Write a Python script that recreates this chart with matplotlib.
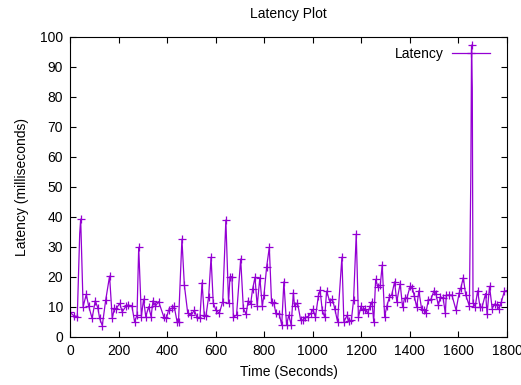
import matplotlib
matplotlib.use("Agg")
import matplotlib.pyplot as plt

time_s = [0, 16, 30, 40, 44, 54, 67, 77, 91, 104, 115, 122, 133, 147, 163, 174, 183, 189, 205, 215,
          231, 239, 255, 266, 276, 283, 294, 303, 312, 324, 334, 342, 352, 365, 386, 397, 406, 420, 429, 441,
          447, 461, 471, 485, 499, 512, 522, 535, 544, 553, 560, 571, 581, 590, 601, 615, 629, 642, 653, 659,
          667, 673, 686, 703, 714, 725, 734, 744, 752, 762, 771, 782, 792, 799, 810, 821, 830, 840, 848, 862,
          872, 881, 892, 901, 911, 920, 925, 937, 950, 961, 970, 980, 993, 1001, 1011, 1023, 1030, 1039, 1049, 1057,
          1070, 1081, 1091, 1102, 1120, 1128, 1142, 1148, 1159, 1168, 1179, 1188, 1199, 1205, 1215, 1226, 1236, 1244, 1251, 1259,
          1268, 1278, 1286, 1296, 1305, 1316, 1325, 1337, 1346, 1360, 1370, 1378, 1388, 1401, 1410, 1418, 1428, 1437, 1448, 1458,
          1466, 1476, 1487, 1499, 1507, 1517, 1526, 1537, 1546, 1550, 1560, 1573, 1590, 1603, 1610, 1620, 1630, 1645, 1651, 1654,
          1657, 1660, 1669, 1679, 1689, 1697, 1712, 1718, 1728, 1739, 1749, 1758, 1767, 1777, 1789, 1800]
latency_ms = [8.2, 7.1, 6.8, 34.5, 39.3, 10.1, 14.2, 10.3, 6.2, 12.1, 9.6, 6.2, 3.8, 12.3, 20.3, 6.2, 9.6, 9.3, 11.2, 8.4,
              10.3, 10.7, 10.3, 5.1, 7.3, 29.9, 6.8, 12.6, 6.8, 10.1, 6.8, 12.1, 10.3, 11.8, 6.8, 6.2, 9.0, 9.6, 10.3, 5.1,
              5.1, 32.6, 17.3, 7.9, 7.3, 8.9, 6.8, 6.2, 18.1, 7.3, 7.0, 13.4, 26.6, 11.4, 8.9, 7.9, 11.8, 39.0, 11.4, 20.1,
              20.1, 6.6, 7.3, 26.0, 9.6, 7.6, 12.1, 11.0, 15.9, 19.9, 10.3, 19.8, 10.3, 14.0, 23.4, 29.9, 11.8, 11.2, 7.9, 7.6,
              4.0, 18.4, 4.0, 7.3, 4.0, 14.8, 10.3, 11.4, 5.7, 5.7, 6.6, 6.8, 7.9, 9.2, 6.6, 13.7, 15.7, 8.9, 6.6, 15.3,
              11.8, 12.6, 9.3, 5.1, 26.6, 5.1, 7.3, 5.3, 5.6, 12.3, 34.3, 6.6, 10.3, 8.9, 9.5, 7.9, 10.3, 11.8, 5.1, 19.2,
              16.7, 17.3, 24.0, 6.8, 10.3, 13.4, 14.0, 18.4, 11.8, 17.8, 9.9, 12.9, 13.1, 16.9, 16.4, 13.7, 9.9, 15.4, 9.5, 8.9,
              8.1, 12.3, 12.6, 15.4, 14.5, 10.6, 13.4, 12.9, 7.9, 14.0, 14.0, 14.0, 9.0, 14.7, 16.4, 19.8, 14.0, 10.3, 54.0, 97.3,
              83.0, 11.5, 10.1, 15.4, 9.9, 9.9, 14.5, 7.6, 16.9, 9.5, 11.0, 10.6, 9.5, 11.8, 15.2, 15.5]
# samples drawn without a point marker (gnuplot point interval)
unmarked_times = [40, 1651, 1657]

x_ticks = list(range(0, 1801, 200))
y_ticks = list(range(0, 101, 10))

plt.rcParams['font.family'] = ['Liberation Sans', 'DejaVu Sans']

fig = plt.figure(figsize=(5.21, 3.85), dpi=100)
ax = fig.add_axes([70/521, 1-337/385, 437/521, 300/385])

marked = [i for i, t in enumerate(time_s) if t not in unmarked_times]
ax.plot(time_s, latency_ms, color='#9400D3', linewidth=0.9, marker='+',
        markersize=6, markeredgewidth=0.9, markevery=marked, label='Latency')

ax.set_xlim(0, 1800)
ax.set_ylim(0, 100)
ax.set_xticks(x_ticks)
ax.set_yticks(y_ticks)
ax.tick_params(direction='in', top=True, right=True, labelsize=10, length=4, width=0.8, pad=5)
for s in ax.spines.values():
    s.set_linewidth(0.8)

ax.set_title('Latency Plot', fontsize=10, pad=14)
ax.set_xlabel('Time (Seconds)', fontsize=10, labelpad=5)
ax.set_ylabel('Latency (milliseconds)', fontsize=10, labelpad=8)

ax.legend(loc='upper right', frameon=False, markerfirst=False, fontsize=10,
          handlelength=2.7, handletextpad=0.6, borderaxespad=0.3, bbox_to_anchor=(0.983, 1.0))

fig.savefig('out.png', dpi=100)
